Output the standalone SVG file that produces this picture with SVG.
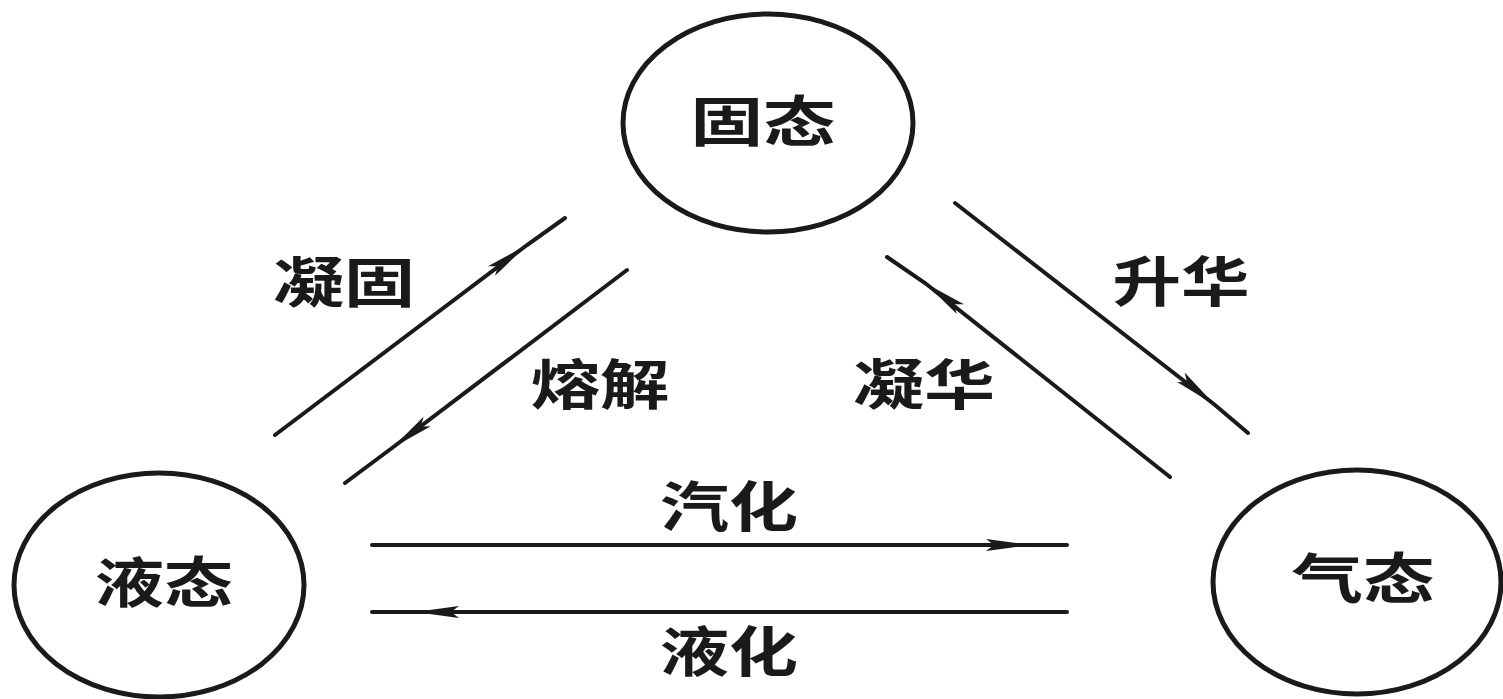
<svg xmlns="http://www.w3.org/2000/svg" width="1503" height="699" viewBox="0 0 1503 699">
<style>
.node{fill:none;stroke:#1a1a1a;stroke-width:5}
.lbl{font-family:"Noto Sans CJK SC","Noto Sans CJK JP",sans-serif;font-weight:700;font-size:54px;fill:#1a1a1a;text-anchor:middle}
.conn{fill:none;stroke:#1a1a1a;stroke-width:4;stroke-linecap:round;marker-mid:url(#ah)}
</style>
<defs>
<marker id="ah" viewBox="0 0 44 14" refX="44" refY="7" markerWidth="44" markerHeight="14" markerUnits="userSpaceOnUse" orient="auto">
<path d="M0,1 L44,7 L0,13 L8,7 Z" fill="#1a1a1a"/>
</marker>
</defs>
<rect width="1503" height="699" fill="#ffffff"/>
<g id="connectors">
<path class="conn" d="M275,435 L527,245 L565,218"/>
<path class="conn" d="M627,270 L392,448 L345,483"/>
<path class="conn" d="M955,203 L1215,405 L1248,433"/>
<path class="conn" d="M1170,477 L925,283 L887,257"/>
<path class="conn" d="M372,545 L1030,545 L1067,545"/>
<path class="conn" d="M1067,612 L415,612 L372,612"/>
</g>
<g id="labels">
<text class="lbl" x="344" y="303" textLength="142" lengthAdjust="spacingAndGlyphs">凝固</text>
<text class="lbl" x="600" y="405" textLength="139" lengthAdjust="spacingAndGlyphs">熔解</text>
<text class="lbl" x="1181" y="302" textLength="137" lengthAdjust="spacingAndGlyphs">升华</text>
<text class="lbl" x="924" y="405" textLength="142" lengthAdjust="spacingAndGlyphs">凝华</text>
<text class="lbl" x="729" y="527" textLength="138" lengthAdjust="spacingAndGlyphs">汽化</text>
<text class="lbl" x="729" y="672" textLength="138" lengthAdjust="spacingAndGlyphs">液化</text>
</g>
<g id="solid">
<ellipse class="node" cx="768" cy="123" rx="145" ry="109"/>
<text class="lbl" x="763" y="142" textLength="145" lengthAdjust="spacingAndGlyphs">固态</text>
</g>
<g id="liquid">
<ellipse class="node" cx="159" cy="585" rx="145" ry="112"/>
<text class="lbl" x="164" y="603" textLength="138" lengthAdjust="spacingAndGlyphs">液态</text>
</g>
<g id="gas">
<ellipse class="node" cx="1357" cy="582" rx="144" ry="112"/>
<text class="lbl" x="1363" y="599" textLength="143" lengthAdjust="spacingAndGlyphs">气态</text>
</g>
</svg>
